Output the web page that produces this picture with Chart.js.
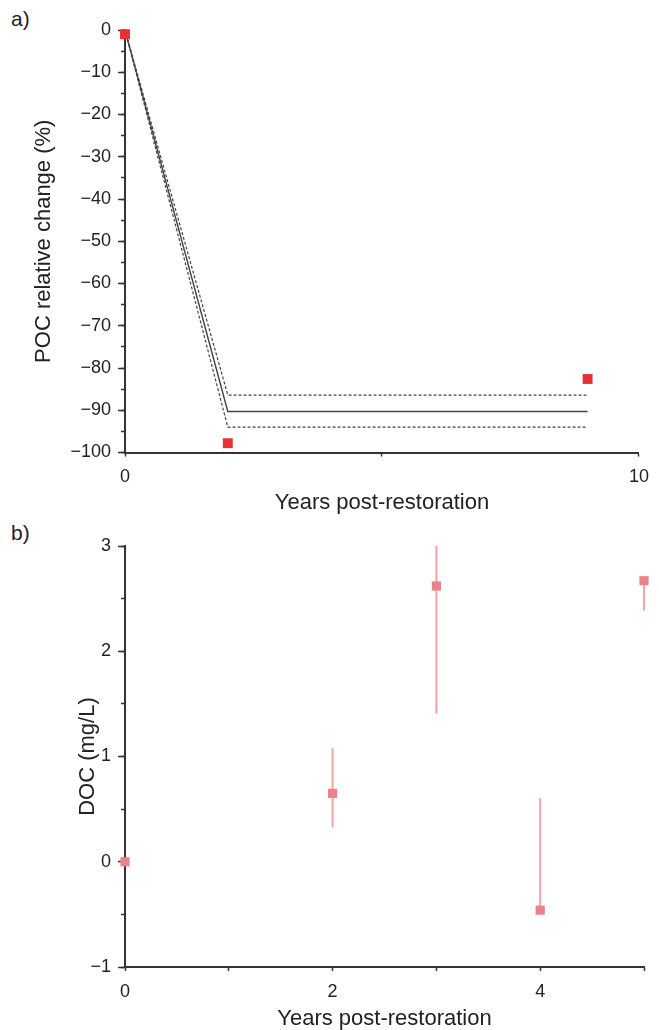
<!DOCTYPE html>
<html>
<head>
<meta charset="utf-8">
<script src="https://cdn.jsdelivr.net/npm/chart.js@4/dist/chart.umd.min.js"></script>
<style>
  body { margin: 0; background: #fff; width: 659px; height: 1030px; overflow: hidden; position: relative; font-family: "Liberation Sans", Arial, sans-serif; }
  canvas { position: absolute; left: 0; }
  #pocChart { top: 0; }
  #docChart { top: 520px; }
  .panel { position: absolute; left: 11px; font-size: 21px; color: #222; }
</style>
</head>
<body>
<div class="panel" style="top: 7px;">a)</div>
<div class="panel" style="top: 521px;">b)</div>
<canvas id="pocChart" width="659" height="520"></canvas>
<canvas id="docChart" width="659" height="520"></canvas>
<script>
// DATA - PANEL A
const pocYears = [0, 2, 9];
const pocChange = [-1, -97.8, -82.6];
const fitYears = [0, 2, 9];
const fitMean = [0, -90.3, -90.3];
const fitUpper = [0, -86.4, -86.4];
const fitLower = [0, -94.0, -94.0];

// DATA - PANEL B
const docYears = [0, 2, 3, 4, 5];
const docValues = [0, 0.65, 2.62, -0.46, 2.67];
const docErrLow = [0, 0.33, 1.41, -0.46, 2.39];
const docErrHigh = [0, 1.08, 3.0, 0.6, 2.67];

// COLORS
const axisColor = "#333333";
const fitColor = "#444444";
const pocRed = "#e63234";
const docPink = "#e8838b";
const errPink = "#f3a7ae";

const tickFont = { family: "Liberation Sans", size: 18 };
const titleFont = { family: "Liberation Sans", size: 22 };

Chart.defaults.color = "#222";

function points(xs, ys) {
  return xs.map((x, i) => ({ x: x, y: ys[i] }));
}

// real minus sign like the original
function minus(v) {
  return v < 0 ? "\u2212" + Math.abs(v) : String(v);
}

function fitLine(ys, dashed) {
  return {
    type: "scatter",
    data: points(fitYears, ys),
    showLine: true,
    borderColor: fitColor,
    borderWidth: dashed ? 1.2 : 1.4,
    borderDash: dashed ? [3, 2] : [],
    pointRadius: 0,
    order: 2,
  };
}

// shared y axis pieces: labelled major ticks + unlabelled minor ticks
function majorY(min, max, step, title, titlePad) {
  return {
    type: "linear",
    position: "left",
    weight: 1,
    min: min,
    max: max,
    afterFit: (s) => { s.width = 125; },
    ticks: { stepSize: step, font: tickFont, padding: 7, color: "#222", callback: minus },
    grid: { drawOnChartArea: false, tickLength: 7, tickColor: axisColor, tickWidth: 1.5 },
    border: { color: axisColor, width: 2 },
    title: { display: true, text: title, font: titleFont, color: "#222", padding: { top: titlePad, bottom: 0 } },
  };
}

function minorY(min, max, step) {
  return {
    type: "linear",
    position: "left",
    weight: 0,
    min: min,
    max: max,
    afterFit: (s) => { s.width = 0; },
    ticks: { stepSize: step, display: false },
    grid: { drawOnChartArea: false, tickLength: 4, tickColor: axisColor, tickWidth: 1.5 },
    border: { display: false },
  };
}

// PANEL A - POC
new Chart(document.getElementById("pocChart"), {
  type: "scatter",
  data: {
    datasets: [
      {
        data: points(pocYears, pocChange),
        pointStyle: "rect",
        pointRadius: 7,
        pointBackgroundColor: pocRed,
        pointBorderWidth: 0,
        clip: false,
        order: 0,
      },
      fitLine(fitMean, false),
      fitLine(fitUpper, true),
      fitLine(fitLower, true),
    ],
  },
  options: {
    responsive: false,
    animation: false,
    layout: { padding: { top: 30, right: 12, left: 0, bottom: 0 } },
    scales: {
      x: {
        type: "linear",
        min: 0,
        max: 10,
        afterFit: (s) => { s.height = 67.5; },
        ticks: {
          stepSize: 5,
          font: tickFont,
          padding: 10,
          color: "#222",
          callback: (v) => (v % 10 === 0 ? v : ""),
        },
        grid: { drawOnChartArea: false, tickLength: 4, tickColor: axisColor, tickWidth: 1.5 },
        border: { color: axisColor, width: 2 },
        title: { display: true, text: "Years post-restoration", font: titleFont, color: "#222", padding: { top: 0, bottom: 4 } },
      },
      y: majorY(-100, 0, 10, "POC relative change (%)", 31),
      yMinor: minorY(-100, 0, 5),
    },
    plugins: { legend: { display: false }, tooltip: { enabled: false } },
  },
});

// PANEL B - DOC
new Chart(document.getElementById("docChart"), {
  type: "scatter",
  data: {
    datasets: [
      {
        data: points(docYears, docValues),
        pointStyle: "rect",
        pointRadius: 6.5,
        pointBackgroundColor: docPink,
        pointBorderWidth: 0,
        clip: false,
        order: 0,
      },
      {
        // error bars as thin floating bars
        type: "bar",
        data: docYears.map((x, i) => ({ x: x, y: [docErrLow[i], docErrHigh[i]] })),
        backgroundColor: errPink,
        borderWidth: 0,
        barThickness: 1.5,
        clip: false,
        order: 1,
      },
    ],
  },
  options: {
    responsive: false,
    animation: false,
    layout: { padding: { top: 26, right: 15, left: 0, bottom: 0 } },
    scales: {
      x: {
        type: "linear",
        min: 0,
        max: 5,
        offset: false,
        afterFit: (s) => { s.height = 73; },
        ticks: {
          stepSize: 1,
          font: tickFont,
          padding: 10,
          color: "#222",
          callback: (v) => (v % 2 === 0 ? v : ""),
        },
        grid: { drawOnChartArea: false, offset: false, tickLength: 4, tickColor: axisColor, tickWidth: 1.5 },
        border: { color: axisColor, width: 2 },
        title: { display: true, text: "Years post-restoration", font: titleFont, color: "#222", padding: { top: 0, bottom: 8 } },
      },
      y: majorY(-1, 3, 1, "DOC (mg/L)", 75),
      yMinor: minorY(-1, 3, 0.5),
    },
    plugins: { legend: { display: false }, tooltip: { enabled: false } },
  },
});
</script>
</body>
</html>
